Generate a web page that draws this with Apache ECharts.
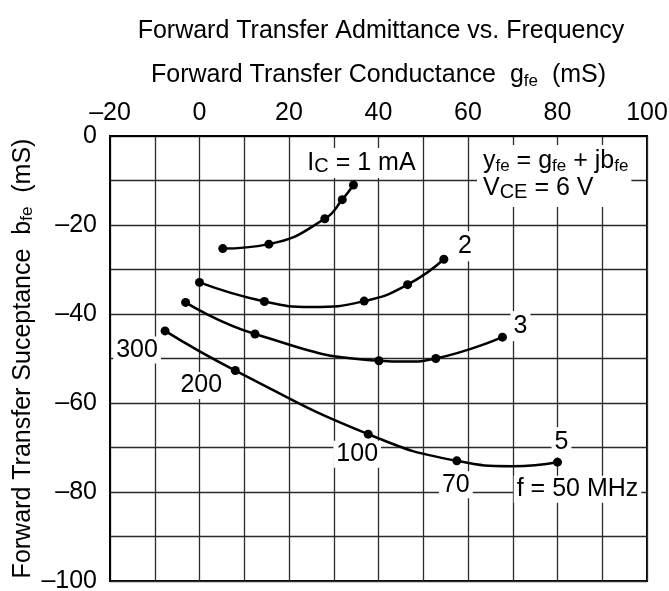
<!DOCTYPE html>
<html lang="en">
<head>
<meta charset="UTF-8">
<title>Forward Transfer Admittance vs. Frequency</title>
<style>
  html, body { margin: 0; padding: 0; background: #fff; }
  #root { width: 669px; height: 591px; }
</style>
</head>
<body>
<div id="root"></div>
<script src="https://cdn.jsdelivr.net/npm/echarts@6/dist/echarts.min.js"></script>
<script>
// g_fe (mS) and b_fe (mS) of the dotted points, one pair of arrays per collector current
var g1mA = [5.2, 15.5, 28.0, 31.9, 34.4];
var b1mA = [-25.3, -24.3, -18.6, -14.3, -11.0];
var g2mA = [0.0, 14.5, 36.8, 46.5, 54.6];
var b2mA = [-32.9, -37.2, -37.1, -33.4, -27.7];
var g3mA = [-3.1, 12.4, 40.1, 52.8, 67.7];
var b3mA = [-37.4, -44.5, -50.5, -50.0, -45.2];
var g5mA = [-7.7, 8.0, 37.7, 57.5, 80.0];
var b5mA = [-43.8, -52.7, -67.0, -73.0, -73.3];

// extra points (the low points of the sags)
var g2Trace = [25.0], b2Trace = [-38.4];
var g3Trace = [46.0], b3Trace = [-50.7];
var g5Trace = [70.0], b5Trace = [-74.2];

var currentLabels = ['I{c|C} = 1 mA', '2', '3', '5'];
var freqLabels = ['300', '200', '100', '70', 'f = 50 MHz'];
var xTicks = [-20, 0, 20, 40, 60, 80, 100];
var yTicks = [0, -20, -40, -60, -80, -100];

var FONT = '"Liberation Sans", Arial, Helvetica, sans-serif';
var FS = 25;

function zip(xs, ys) {
  return xs.map(function (x, i) { return [x, ys[i]]; });
}
function dash(v) {
  return v < 0 ? '\u2013' + Math.abs(v) : String(v);
}

var whiteLabel = {
  fontFamily: FONT, fontSize: FS, color: '#000', opacity: 1,
  backgroundColor: '#fff', padding: [1, 3, 1, 3]
};
var subRich = {
  s: { fontFamily: FONT, fontSize: 17, lineHeight: 17, verticalAlign: 'bottom', color: '#000' },
  c: { fontFamily: FONT, fontSize: 20, lineHeight: 20, verticalAlign: 'bottom', color: '#000' }
};

// offsets of the end labels from the last point of each curve
var endOffsets = [[8, -22], [21, -13], [18, -11], [4, -20]];
var freqOffsets = [[-28, 19], [-34, 15], [-11, 20], [-1, 24], [20, 27]];

function curve(name, dots, trace, idx) {
  var pts = dots.map(function (p) { return { p: p, dot: true }; })
    .concat(trace.map(function (p) { return { p: p, dot: false }; }))
    .sort(function (a, b) { return a.p[0] - b.p[0]; });
  var last = dots[dots.length - 1];
  var data = pts.map(function (d) {
    var item = { value: d.p };
    if (!d.dot) item.symbolSize = 0;
    if (d.p === last) {
      item.label = Object.assign({
        show: true, position: 'inside', offset: endOffsets[idx],
        formatter: currentLabels[idx], rich: subRich, lineHeight: 28
      }, whiteLabel);
    }
    return item;
  });
  return {
    name: name, type: 'line', smooth: 0.5, data: data,
    symbol: 'circle', symbolSize: 9, showAllSymbol: true,
    lineStyle: { color: '#000', width: 2.5 },
    itemStyle: { color: '#000', opacity: 1 },
    z: 3
  };
}

var chart = echarts.init(document.getElementById('root'));
var pts5 = zip(g5mA, b5mA);

var option = {
  animation: false,
  backgroundColor: '#fff',
  textStyle: { fontFamily: FONT },
  grid: {
    left: 110, right: 22, top: 136, bottom: 10,
    outerBoundsMode: 'none', containLabel: false,
    show: true, borderColor: '#000', borderWidth: 2, backgroundColor: 'transparent'
  },
  xAxis: {
    type: 'value', position: 'top', min: -20, max: 100, interval: 10,
    name: 'Forward Transfer Conductance  g{s|fe}  (mS)',
    nameLocation: 'middle', nameGap: 46, nameMoveOverlap: false,
    nameTextStyle: { fontFamily: FONT, fontSize: FS, color: '#000', lineHeight: 30, rich: subRich },
    axisLine: { show: true, onZero: false, lineStyle: { color: '#000', width: 2 } },
    axisTick: { show: false },
    axisLabel: {
      margin: 10, fontFamily: FONT, fontSize: FS, color: '#000',
      formatter: function (v) { return xTicks.indexOf(v) >= 0 ? dash(v) : ''; }
    },
    splitLine: { show: true, lineStyle: { color: '#2a2a2a', width: 1.3 } }
  },
  yAxis: {
    type: 'value', min: -100, max: 0, interval: 10,
    name: 'Forward Transfer Suceptance  b{s|fe}  (mS)',
    nameLocation: 'middle', nameGap: 74, nameRotate: 90, nameMoveOverlap: false,
    nameTextStyle: { fontFamily: FONT, fontSize: FS, color: '#000', lineHeight: 26, rich: subRich },
    axisLine: { show: true, onZero: false, lineStyle: { color: '#000', width: 2 } },
    axisTick: { show: false },
    axisLabel: {
      margin: 13, fontFamily: FONT, fontSize: FS, color: '#000',
      formatter: function (v) { return yTicks.indexOf(v) >= 0 ? dash(v) : ''; }
    },
    splitLine: { show: true, lineStyle: { color: '#2a2a2a', width: 1.3 } }
  },
  graphic: [
    {
      type: 'text', x: 381, y: 31, z: 10,
      style: {
        text: 'Forward Transfer Admittance vs. Frequency',
        font: FS + 'px ' + FONT, fill: '#000', align: 'center', verticalAlign: 'middle'
      }
    },
    {
      type: 'text', x: 477, y: 145, z: 10,
      style: {
        text: 'y{s|fe} = g{s|fe} + jb{s|fe}\nV{c|CE} = 6 V',
        font: FS + 'px ' + FONT, fill: '#000', lineHeight: 27,
        backgroundColor: '#fff', padding: [3, 3, 5, 6],
        rich: subRich
      }
    }
  ],
  series: [
    curve('1 mA', zip(g1mA, b1mA), [], 0),
    curve('2 mA', zip(g2mA, b2mA), zip(g2Trace, b2Trace), 1),
    curve('3 mA', zip(g3mA, b3mA), zip(g3Trace, b3Trace), 2),
    curve('5 mA', pts5, zip(g5Trace, b5Trace), 3),
    {
      name: 'frequency', type: 'scatter', symbolSize: 0, z: 4,
      itemStyle: { opacity: 1 },
      data: pts5.map(function (p, i) {
        return {
          value: p,
          label: Object.assign({
            show: true, position: 'inside', offset: freqOffsets[i],
            formatter: freqLabels[i]
          }, whiteLabel)
        };
      })
    }
  ]
};
chart.setOption(option);
</script>
</body>
</html>
